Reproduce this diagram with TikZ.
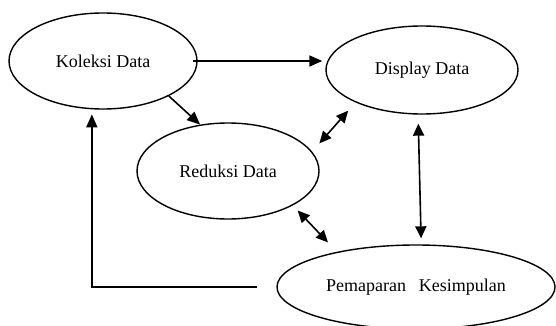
\documentclass[tikz,border=0pt]{standalone}
\usepackage{fontspec}
\setmainfont{Liberation Serif}
\usetikzlibrary{shapes.geometric,arrows.meta}
\begin{document}
\begin{tikzpicture}[x=1pt,y=-1pt,
  stage/.style={ellipse,draw,line width=1.4pt,inner sep=0pt,font=\fontsize{18}{20}\selectfont},
  arr/.style={line width=1.6pt,-{Triangle[length=13pt,width=11pt]}},
  dbl/.style={line width=1.6pt,{Triangle[length=12pt,width=11pt]}-{Triangle[length=12pt,width=11pt]}}]
\useasboundingbox (0,0) rectangle (556,326);
\node[stage,minimum width=188pt,minimum height=96pt] (kol) at (103,61) {Koleksi Data};
\node[stage,minimum width=192pt,minimum height=88pt] (dis) at (422,70) {Display Data};
\node[stage,minimum width=182pt,minimum height=96pt] (red) at (228,171) {Reduksi Data};
\node[stage,minimum width=278pt,minimum height=84pt] (pem) at (416,287) {Pemaparan\hspace{0.7em}Kesimpulan};
\draw[arr,shorten <=-5pt,shorten >=3pt] (kol.east) -- (kol.east -| dis.west);
\draw[arr] (kol.-28) -- (red.121);
\draw[dbl,shorten <=11pt,shorten >=11pt] (red.13) -- (dis.206);
\draw[dbl,shorten <=9pt,shorten >=6pt] (dis.-95) -- (pem.83);
\draw[dbl,shorten <=7pt,shorten >=13pt] (red.-28) -- (pem.156);
\draw[arr,shorten <=19pt,shorten >=5pt] (pem.west) -| (kol.-103);
\end{tikzpicture}
\end{document}
